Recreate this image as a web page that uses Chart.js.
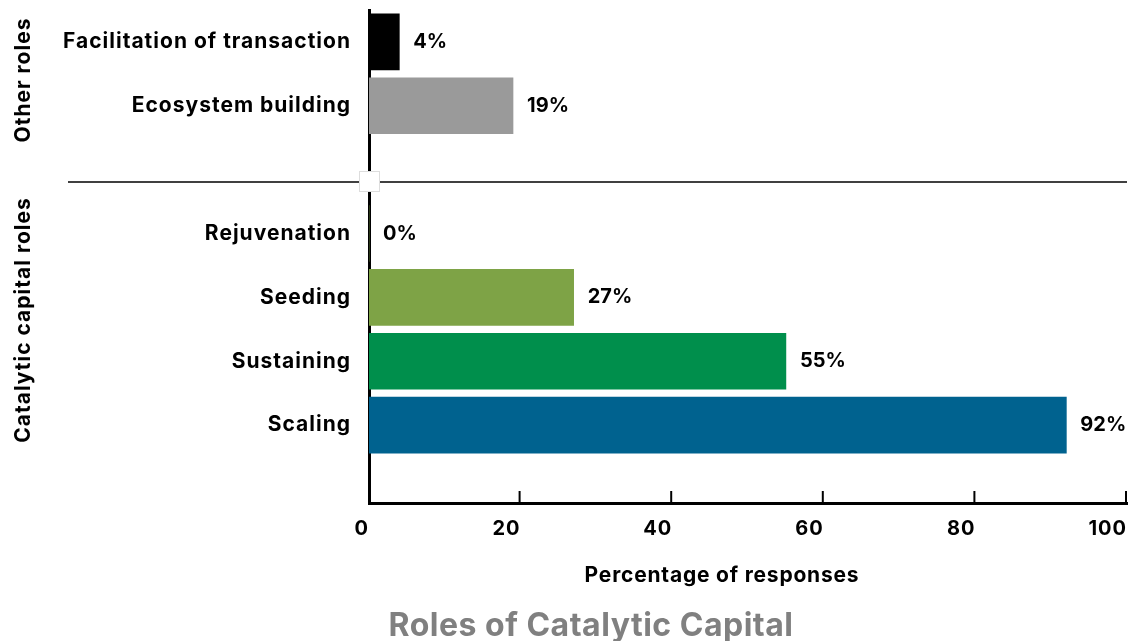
<!DOCTYPE html>
<html>
<head>
<meta charset="utf-8">
<script src="https://cdn.jsdelivr.net/npm/chart.js@4.4.0/dist/chart.umd.min.js"></script>
<style>
  body { margin: 0; background: #fff; }
  canvas { display: block; }
</style>
</head>
<body>
<canvas id="rolesChart" width="1131" height="641"></canvas>
<script>
// categories top to bottom, '' = empty slot between groups
const categories = ['Facilitation of transaction', 'Ecosystem building', '', 'Rejuvenation', 'Seeding', 'Sustaining', 'Scaling'];
const percentValues = [4, 19, null, 0, 27, 55, 92];
const barColors = ['#000000', '#9a9a9a', '#ffffff', '#7ea346', '#7ea346', '#008f4c', '#00628f'];
const xTickValues = [0, 20, 40, 60, 80, 100];

const FONT = 'Inter, "Noto Sans", sans-serif';

// punkte für die linear y achse
const points = [];
const pointColors = [];
percentValues.forEach(function(v, i) {
    if (v === null) return;
    points.push({ x: v, y: i });
    pointColors.push(barColors[i]);
});

const spacingPlugin = {
    id: 'spacing',
    beforeUpdate: function(chart) { chart.ctx.letterSpacing = '1px'; },
    beforeDraw: function(chart) { chart.ctx.letterSpacing = '1px'; }
};

const extrasPlugin = {
    id: 'extras',
    afterDraw: function(chart) {
        const ctx = chart.ctx;
        const xs = chart.scales.x;
        const area = chart.chartArea;
        ctx.save();

        // kleine ticks nach innen
        ctx.strokeStyle = '#000';
        ctx.lineWidth = 2;
        xTickValues.forEach(function(t) {
            if (t === 0) return;
            const px = xs.getPixelForValue(t);
            ctx.beginPath();
            ctx.moveTo(px - 1, area.bottom);
            ctx.lineTo(px - 1, area.bottom - 12);
            ctx.stroke();
        });

        // trennlinie zwischen den gruppen
        ctx.lineWidth = 1.5;
        ctx.beginPath();
        ctx.moveTo(68, 182);
        ctx.lineTo(area.right, 182);
        ctx.stroke();
        ctx.fillStyle = '#fff';
        ctx.fillRect(359, 171, 21, 21);
        ctx.strokeStyle = '#dddddd';
        ctx.lineWidth = 1;
        ctx.strokeRect(359.5, 171.5, 20, 20);

        // werte an den balken
        ctx.fillStyle = '#000';
        ctx.letterSpacing = '0px';
        ctx.font = 'bold 20px ' + FONT;
        ctx.textAlign = 'left';
        ctx.textBaseline = 'middle';
        const meta = chart.getDatasetMeta(0);
        meta.data.forEach(function(bar, i) {
            ctx.fillText(points[i].x + '%', bar.x + 14, bar.y);
        });

        // gruppen beschriftung
        ctx.letterSpacing = '1px';
        ctx.font = 'bold 21px ' + FONT;
        ctx.textAlign = 'center';
        ctx.save();
        ctx.translate(24, 80);
        ctx.rotate(-Math.PI / 2);
        ctx.fillText('Other roles', 0, 0);
        ctx.restore();
        ctx.save();
        ctx.translate(24, 320);
        ctx.rotate(-Math.PI / 2);
        ctx.fillText('Catalytic capital roles', 0, 0);
        ctx.restore();

        // achsentitel und titel
        ctx.letterSpacing = '0.8px';
        ctx.font = 'bold 21px ' + FONT;
        ctx.fillText('Percentage of responses', 722, 576);
        ctx.fillStyle = '#808080';
        ctx.letterSpacing = '0.5px';
        ctx.font = 'bold 32px ' + FONT;
        ctx.fillText('Roles of Catalytic Capital', 591, 626);

        ctx.restore();
    }
};

const ctx = document.getElementById('rolesChart').getContext('2d');
const rolesChart = new Chart(ctx, {
    type: 'bar',
    data: {
        datasets: [{
            data: points,
            backgroundColor: pointColors,
            barThickness: 56
        }]
    },
    options: {
        indexAxis: 'y',
        responsive: false,
        animation: false,
        layout: { padding: { top: 10, right: 4, bottom: 88, left: 0 } },
        plugins: {
            legend: { display: false },
            tooltip: { enabled: false }
        },
        scales: {
            x: {
                type: 'linear',
                min: 0,
                max: 100,
                afterBuildTicks: function(s) {
                    s.ticks = xTickValues.map(function(v) { return { value: v }; });
                },
                afterFit: function(s) {
                    s.height = 50;
                    s.paddingLeft = 0;
                    s.paddingRight = 0;
                },
                grid: { display: false, drawTicks: false },
                border: { display: true, color: '#000', width: 3 },
                ticks: {
                    align: 'end',
                    padding: 14,
                    color: '#000',
                    font: { family: FONT, size: 20, weight: 'bold' }
                }
            },
            y: {
                type: 'linear',
                reverse: true,
                offset: false,
                min: -0.5,
                max: 7.22,
                afterBuildTicks: function(s) {
                    s.ticks = categories.map(function(c, i) { return { value: i }; });
                },
                afterFit: function(s) {
                    s.width = 369;
                    s.paddingTop = 0;
                    s.paddingBottom = 0;
                },
                grid: { display: false, drawTicks: false },
                border: { display: true, color: '#000', width: 3 },
                ticks: {
                    autoSkip: false,
                    padding: 18,
                    color: '#000',
                    font: { family: FONT, size: 21, weight: 'bold' },
                    callback: function(value) { return categories[value]; }
                }
            }
        }
    },
    plugins: [spacingPlugin, extrasPlugin]
});
</script>
</body>
</html>
